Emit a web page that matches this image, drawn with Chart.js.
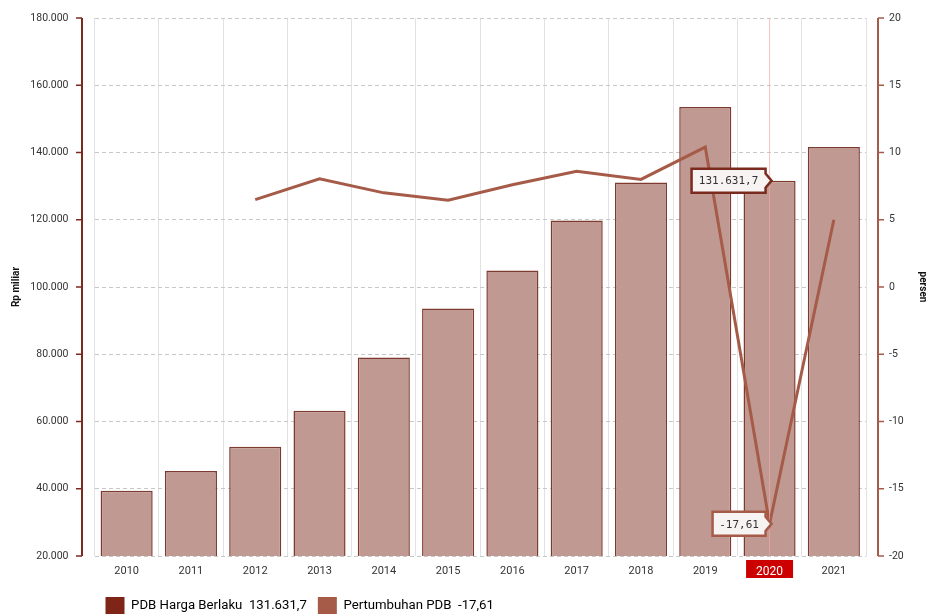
<!DOCTYPE html>
<html>
<head>
<meta charset="utf-8">
<script src="https://cdn.jsdelivr.net/npm/chart.js@4.4.1/dist/chart.umd.min.js"></script>
<style>
  html, body { margin: 0; padding: 0; background: #fff; }
  #wrap { width: 930px; height: 616px; }
</style>
</head>
<body>
<div id="wrap"><canvas id="pdbChart" width="930" height="616"></canvas></div>
<script>
const years = ["2010", "2011", "2012", "2013", "2014", "2015", "2016", "2017", "2018", "2019", "2020", "2021"];
// PDB harga berlaku, Rp miliar
const pdbValues = [39400, 45300, 52500, 63200, 79000, 93600, 104900, 119800, 131100, 153500, 131631.7, 141600];
// pertumbuhan PDB, persen
const growthValues = [null, null, 6.5, 8.05, 7.0, 6.45, 7.6, 8.6, 8.0, 10.4, -17.61, 5.0];
const leftTicks = [20000, 40000, 60000, 80000, 100000, 120000, 140000, 160000, 180000];
const rightTicks = [-20, -15, -10, -5, 0, 5, 10, 15, 20];

const selectedIndex = 10;

const colors = {
  barFill: "#c09a92",
  barBorder: "#7d3a2f",
  barLegend: "#7e2518",
  line: "#a55b48",
  leftAxis: "#7b2a1e",
  grid: "#c8c8c8",
  vgrid: "#e2e2e2",
  text: "#333333",
  highlight: "#cc0000",
};

const formatRp = new Intl.NumberFormat("de-DE", { maximumFractionDigits: 1, minimumFractionDigits: 0 });
const formatPct = new Intl.NumberFormat("de-DE", { maximumFractionDigits: 2 });

// offset axis lines with their small tick marks, drawn outside the plot area
const axisLines = {
  id: "axisLines",
  afterDraw(chart) {
    const { ctx, chartArea, scales } = chart;
    ctx.save();
    const lx = chartArea.left - 12.5;
    ctx.strokeStyle = colors.leftAxis;
    ctx.lineWidth = 2;
    ctx.beginPath();
    ctx.moveTo(lx, chartArea.top);
    ctx.lineTo(lx, chartArea.bottom);
    ctx.stroke();
    ctx.lineWidth = 1.5;
    leftTicks.forEach((v) => {
      const y = scales.y.getPixelForValue(v);
      ctx.beginPath();
      ctx.moveTo(lx - 6, y);
      ctx.lineTo(lx, y);
      ctx.stroke();
    });
    const rx = chartArea.right + 12;
    ctx.strokeStyle = colors.line;
    ctx.lineWidth = 2;
    ctx.beginPath();
    ctx.moveTo(rx, chartArea.top);
    ctx.lineTo(rx, chartArea.bottom);
    ctx.stroke();
    ctx.lineWidth = 1.5;
    rightTicks.forEach((v) => {
      const y = scales.y1.getPixelForValue(v);
      ctx.beginPath();
      ctx.moveTo(rx, y);
      ctx.lineTo(rx + 6, y);
      ctx.stroke();
    });
    ctx.restore();
  },
};

// nudge the legend row down after layout
const legendShift = {
  id: "legendShift",
  afterLayout(chart) {
    const legend = chart.legend;
    legend.top += 8;
    legend.bottom += 8;
  },
};

// hover crosshair for the selected year, plus the two value flags
const selection = {
  id: "selection",
  afterDatasetsDraw(chart) {
    const { ctx, chartArea, scales } = chart;
    const x = scales.x.getPixelForValue(selectedIndex);
    ctx.save();
    ctx.strokeStyle = "rgba(236, 170, 170, 0.7)";
    ctx.lineWidth = 1;
    ctx.beginPath();
    ctx.moveTo(x, chartArea.top);
    ctx.lineTo(x, chartArea.bottom);
    ctx.stroke();
    ctx.restore();
  },
  afterDraw(chart) {
    const { scales } = chart;
    const x = scales.x.getPixelForValue(selectedIndex);
    drawFlag(chart.ctx, x, scales.y.getPixelForValue(pdbValues[selectedIndex]),
      formatRp.format(pdbValues[selectedIndex]), colors.leftAxis, 74);
    drawFlag(chart.ctx, x, scales.y1.getPixelForValue(growthValues[selectedIndex]),
      formatPct.format(growthValues[selectedIndex]), colors.line, 53);
  },
};

function drawFlag(ctx, tipX, tipY, text, border, width) {
  const h = 24;
  const right = tipX - 4;
  const left = right - width;
  const top = tipY - h / 2;
  ctx.save();
  ctx.beginPath();
  ctx.moveTo(left, top);
  ctx.lineTo(right, top);
  ctx.lineTo(right, tipY - 7);
  ctx.lineTo(tipX + 2, tipY);
  ctx.lineTo(right, tipY + 7);
  ctx.lineTo(right, top + h);
  ctx.lineTo(left, top + h);
  ctx.closePath();
  ctx.fillStyle = "#f7f3f2";
  ctx.fill();
  ctx.strokeStyle = border;
  ctx.lineWidth = 2.5;
  ctx.stroke();
  ctx.fillStyle = "#333";
  ctx.font = "11px 'DejaVu Sans Mono', monospace";
  ctx.textAlign = "center";
  ctx.textBaseline = "middle";
  ctx.fillText(text, (left + right) / 2, tipY + 1);
  ctx.restore();
}

Chart.defaults.font.family = "Roboto, 'Noto Sans', sans-serif";
Chart.defaults.color = colors.text;

new Chart(document.getElementById("pdbChart"), {
  type: "bar",
  data: {
    labels: years,
    datasets: [
      {
        type: "bar",
        label: "PDB Harga Berlaku",
        data: pdbValues,
        yAxisID: "y",
        backgroundColor: colors.barFill,
        borderColor: colors.barBorder,
        borderWidth: 1.5,
        categoryPercentage: 1,
        barPercentage: 0.81,
        order: 1,
      },
      {
        type: "line",
        label: "Pertumbuhan PDB",
        data: growthValues,
        yAxisID: "y1",
        borderColor: colors.line,
        backgroundColor: colors.line,
        borderWidth: 3,
        pointRadius: 0,
        tension: 0,
        order: 0,
      },
    ],
  },
  options: {
    responsive: false,
    animation: false,
    layout: { padding: { top: 18, left: 0, right: 0, bottom: 0 } },
    plugins: {
      tooltip: { enabled: false },
      legend: {
        position: "bottom",
        align: "start",
        fullSize: false,
        labels: {
          boxWidth: 19,
          boxHeight: 17,
          padding: 11,
          font: { size: 13.2 },
          color: "#222",
          generateLabels: () => [
            {
              text: `PDB Harga Berlaku  ${formatRp.format(pdbValues[selectedIndex])}`,
              fillStyle: colors.barLegend,
              strokeStyle: colors.barLegend,
              lineWidth: 0,
              datasetIndex: 0,
            },
            {
              text: `Pertumbuhan PDB  ${formatPct.format(growthValues[selectedIndex])}`,
              fillStyle: colors.line,
              strokeStyle: colors.line,
              lineWidth: 0,
              datasetIndex: 1,
            },
          ],
        },
      },
    },
    scales: {
      x: {
        offset: true,
        grid: { color: colors.vgrid, drawTicks: false, offset: true },
        border: { display: false },
        afterFit: (scale) => { scale.height = 22; },
        ticks: {
          padding: 9,
          font: (ctx) => ({ size: ctx.index === selectedIndex ? 12 : 11 }),
          color: (ctx) => (ctx.index === selectedIndex ? "#ffffff" : colors.text),
          showLabelBackdrop: (ctx) => ctx.index === selectedIndex,
          backdropColor: colors.highlight,
          backdropPadding: { x: 10, y: 5 },
        },
      },
      y: {
        position: "left",
        min: 20000,
        max: 180000,
        afterFit: (scale) => { scale.width = 94.5; },
        afterBuildTicks: (scale) => { scale.ticks = leftTicks.map((value) => ({ value })); },
        // invisible tick length keeps labels clear of the offset axis line
        grid: { color: colors.grid, drawTicks: true, tickLength: 26, tickColor: "rgba(0,0,0,0)" },
        border: { display: false, dash: [4, 3] },
        title: { display: true, text: "Rp miliar", font: { size: 10, weight: "bold" }, color: "#111", padding: { top: 10, bottom: 0 } },
        ticks: {
          padding: 0,
          font: { size: 10.5 },
          callback: (value) => formatRp.format(value),
        },
      },
      y1: {
        position: "right",
        min: -20,
        max: 20,
        afterFit: (scale) => { scale.width = 64; },
        afterBuildTicks: (scale) => { scale.ticks = rightTicks.map((value) => ({ value })); },
        grid: { drawOnChartArea: false, drawTicks: true, tickLength: 23, tickColor: "rgba(0,0,0,0)" },
        border: { display: false },
        title: { display: true, text: "persen", font: { size: 10, weight: "bold" }, color: "#111", padding: { top: 2, bottom: 0 } },
        ticks: {
          padding: 0,
          font: { size: 10.5 },
          callback: (value) => String(value),
        },
      },
    },
  },
  plugins: [axisLines, legendShift, selection],
});
</script>
</body>
</html>
